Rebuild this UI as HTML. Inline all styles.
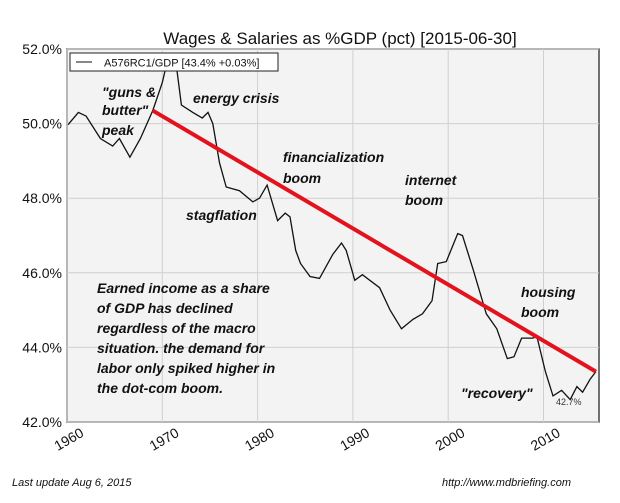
<!DOCTYPE html>
<html><head><meta charset="utf-8"><style>
html,body{margin:0;padding:0;background:#fff;}
body{width:620px;height:498px;overflow:hidden;font-family:"Liberation Sans",sans-serif;}
.ann{font-family:"Liberation Sans",sans-serif;font-weight:bold;font-style:italic;fill:#111;font-size:14px;}
</style></head><body>
<svg id="chart" width="620" height="498" xmlns="http://www.w3.org/2000/svg">
<text x="340" y="44" text-anchor="middle" font-size="17" fill="#111">Wages &amp; Salaries as %GDP (pct) [2015-06-30]</text>
<rect x="67" y="49" width="532" height="373" fill="#f3f3f3" stroke="#444" stroke-width="1.5"/>
<g id="grid"></g>
<g id="axes"></g>
<polyline id="series" fill="none" stroke="#111" stroke-width="1.3"/>
<line id="trend" stroke="#e3121c" stroke-width="4"/>
<g>
<rect x="70" y="53" width="208" height="18" fill="#fff" stroke="#222" stroke-width="1"/>
<line x1="76" y1="62" x2="92" y2="62" stroke="#111" stroke-width="1"/>
<text x="104" y="66.5" font-size="11" fill="#111">A576RC1/GDP [43.4% +0.03%]</text>
</g>
<text class="ann" x="102" y="97">"guns &amp;</text>
<text class="ann" x="102" y="115">butter"</text>
<text class="ann" x="102" y="135">peak</text>
<text class="ann" x="193" y="103">energy crisis</text>
<text class="ann" x="283" y="162">financialization</text>
<text class="ann" x="283" y="183">boom</text>
<text class="ann" x="405" y="185">internet</text>
<text class="ann" x="405" y="205">boom</text>
<text class="ann" x="186" y="220">stagflation</text>
<text class="ann" x="521" y="297">housing</text>
<text class="ann" x="521" y="317">boom</text>
<text class="ann" x="461" y="398">"recovery"</text>
<text x="556" y="405" font-size="9" fill="#333">42.7%</text>
<g class="ann" font-size="14">
<text x="97" y="293">Earned income as a share</text>
<text x="97" y="313">of GDP has declined</text>
<text x="97" y="333">regardless of the macro</text>
<text x="97" y="353">situation. the demand for</text>
<text x="97" y="373">labor only spiked higher in</text>
<text x="97" y="393">the dot-com boom.</text>
</g>
<text x="12" y="486" font-size="11" font-style="italic" fill="#111">Last update Aug  6, 2015</text>
<text x="442" y="486" font-size="11" font-style="italic" fill="#111">http://www.mdbriefing.com</text>
</svg>
<script>
const years=[1960.1,1961.2,1962,1963.5,1964.8,1965.5,1966.6,1967.7,1969,1970,1970.5,1971,1971.5,1972,1973.2,1974.2,1974.8,1975.3,1976,1976.7,1978.1,1979.5,1980.2,1981,1982.1,1982.9,1983.4,1984,1984.5,1985.5,1986.5,1987.9,1988.8,1989.3,1990.2,1991,1992.8,1993.9,1995.1,1996.3,1997.3,1998.3,1998.9,1999.8,2001,2001.5,2002.6,2004,2005.1,2006.2,2006.9,2007.7,2008.9,2009.3,2010.2,2011,2011.9,2012.8,2013.5,2014.1,2014.9,2015.5];
const values=[49.97,50.3,50.2,49.6,49.4,49.6,49.1,49.6,50.35,51.1,51.65,51.85,51.5,50.5,50.3,50.15,50.3,50.0,48.95,48.3,48.2,47.9,48.0,48.35,47.4,47.6,47.5,46.6,46.25,45.9,45.85,46.5,46.8,46.6,45.8,45.95,45.6,45.0,44.5,44.75,44.9,45.25,46.25,46.3,47.05,47.0,46.1,44.9,44.5,43.7,43.75,44.25,44.25,44.3,43.35,42.7,42.85,42.6,42.95,42.8,43.15,43.35];
const trendYears=[1969.0,2015.5];
const trendValues=[50.35,43.35];
const yTicks=[42,44,46,48,50,52];
const yTickLabels=["42.0%","44.0%","46.0%","48.0%","50.0%","52.0%"];
const xTicks=[1960,1970,1980,1990,2000,2010];
const xTickLabels=["1960","1970","1980","1990","2000","2010"];
const X=y=>67+(y-1960)*9.53;
const Y=v=>422-(v-42)*37.3;
const NS="http://www.w3.org/2000/svg";
const grid=document.getElementById('grid'),axes=document.getElementById('axes');
function mk(tag,attrs,parent){const e=document.createElementNS(NS,tag);for(const k in attrs)e.setAttribute(k,attrs[k]);parent.appendChild(e);return e;}
yTicks.forEach((t,i)=>{
 const g=mk('line',{x1:67,x2:599,y1:Y(t),y2:Y(t),stroke:'#d0d0d0','stroke-width':1},grid);
 
 
 const tx=mk('text',{x:62,y:Y(t)+5,'text-anchor':'end','font-size':14,fill:'#111'},axes);
 tx.textContent=yTickLabels[i];
 
 
});
xTicks.forEach((t,i)=>{
 const g=mk('line',{x1:X(t),x2:X(t),y1:49,y2:422,stroke:'#d0d0d0','stroke-width':1},grid);
 
 
 const tx=mk('text',{x:X(t)+2,y:445,'text-anchor':'middle','font-size':14,fill:'#111',transform:`rotate(-30 ${X(t)} 440)`},axes);
 tx.textContent=xTickLabels[i];
 
 
});
document.getElementById('series').setAttribute('points',years.map((y,i)=>X(y).toFixed(1)+','+Y(values[i]).toFixed(1)).join(' '));
const tr=document.getElementById('trend');
tr.setAttribute('x1',X(trendYears[0]));tr.setAttribute('y1',Y(trendValues[0]));
tr.setAttribute('x2',X(trendYears[1]));tr.setAttribute('y2',Y(trendValues[1]));
</script>
</body></html>
